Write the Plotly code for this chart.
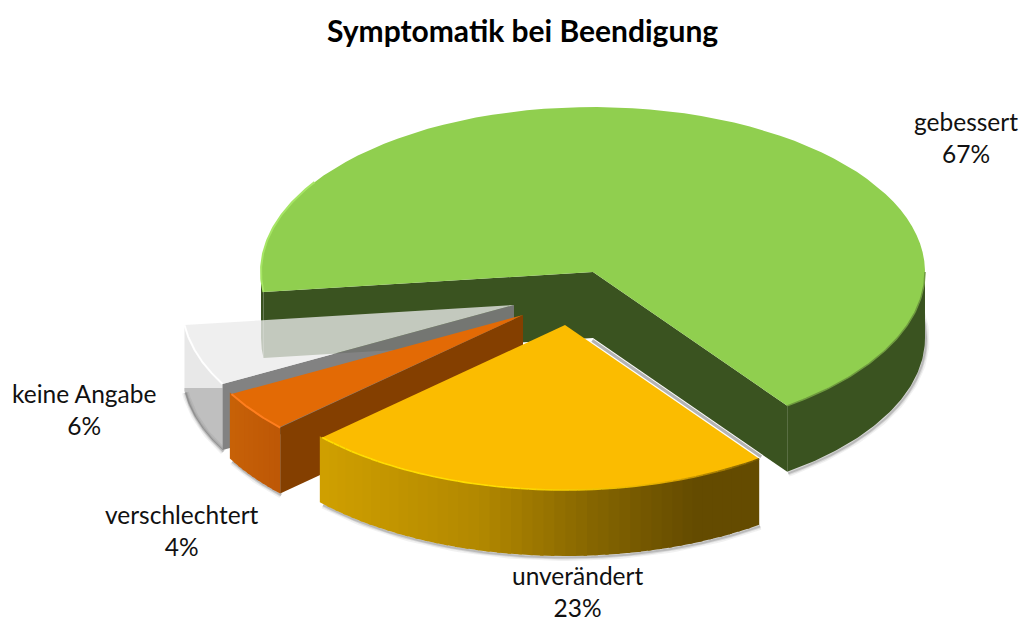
import numpy as np
import plotly.graph_objects as go

# ---- data ----
TITLE = "Symptomatik bei Beendigung"
categories = ["gebessert", "unverändert", "verschlechtert", "keine Angabe"]
values = [67, 23, 4, 6]

# ---- projection of the tilted pie (page pixels) ----
START_DEG = 263.0
RX, RY, DEPTH = 332, 165, 66
apex = {"gebessert": (593, 272), "unverändert": (565, 325),
        "verschlechtert": (523, 315), "keine Angabe": (514, 305)}
label_pos = {"gebessert": (966, 137.5), "unverändert": (577, 591.5),
             "verschlechtert": (182, 530.5), "keine Angabe": (84, 409.5)}

total = sum(values)
spans = {}
a0 = START_DEG
for c, v in zip(categories, values):
    a1 = a0 + v / total * 360
    spans[c] = (a0, a1)
    a0 = a1


def rim(c, a, b, n=80):
    t = np.radians(np.linspace(a, b, n))
    ax, ay = apex[c]
    return ax + RX * np.sin(t), ay - RY * np.cos(t)


fig = go.Figure()


def poly(x, y, fill):
    fig.add_trace(go.Scatter(x=list(x), y=list(y), mode="lines", fill="toself",
                             fillcolor=fill, line=dict(width=0), hoverinfo="skip",
                             showlegend=False))


def line(x, y, color, width):
    fig.add_trace(go.Scatter(x=list(x), y=list(y), mode="lines",
                             line=dict(color=color, width=width), hoverinfo="skip",
                             showlegend=False))


def top(c, fill):
    x, y = rim(c, *spans[c])
    ax, ay = apex[c]
    poly([ax, *x, ax], [ay, *y, ay], fill)


def wall(c, deg, fill):
    x, y = rim(c, deg, deg, 1)
    ax, ay = apex[c]
    poly([ax, x[0], x[0], ax, ax], [ay, y[0], y[0] + DEPTH, ay + DEPTH, ay], fill)


def side(c, a, b, fill):
    x, y = rim(c, a, b)
    poly([*x, *x[::-1], x[0]], [*y, *(y[::-1] + DEPTH), y[0]], fill)


def side_grad(c, a, b, color_at, n=44):
    edges = np.linspace(a, b, n + 1)
    for e0, e1 in zip(edges[:-1], edges[1:]):
        x, y = rim(c, e0, e1 + 0.6, 4)
        poly([*x, *x[::-1], x[0]], [*y, *(y[::-1] + DEPTH), y[0]], color_at(x.mean()))


def mix(stops, x):
    xs = [s[0] for s in stops]
    rgb = [np.interp(x, xs, [s[1][i] for s in stops]) for i in range(3)]
    return "rgb(%d,%d,%d)" % tuple(rgb)


def bottom_shadow(c, a, b):
    x, y = rim(c, a, b)
    for w, al in ((7, 0.07), (4, 0.12), (2, 0.2)):
        line(x + 1, y + DEPTH + 1.5, f"rgba(60,60,60,{al})", w)


# ---- gebessert ----
c = "gebessert"
a, b = spans[c]
bottom_shadow(c, 440, b)
GREEN_DARK = "#3A5320"
side(c, 450, b, GREEN_DARK)
side(c, a, 270, GREEN_DARK)
wall(c, a, GREEN_DARK)
wall(c, b, GREEN_DARK)
top(c, "#90CF4F")
rx, ry = rim(c, a, a + 40)
line(rx, ry, "#A6E565", 2)
rx, ry = rim(c, 450, b)
line(rx, ry, "#6E9A3E", 1.5)

# ---- keine Angabe (translucent) ----
c = "keine Angabe"
a, b = spans[c]
x, y = rim(c, a, b)
poly([*x, *x[::-1], x[0]], [*y, *(y[::-1] + DEPTH), y[0]], "#E8E8E8")
poly([*x, *x[::-1], x[0]],
     [*np.maximum(y, 388), *np.maximum(y[::-1] + DEPTH, 388), max(y[0], 388)], "#BFBFBF")
bottom_shadow(c, a, b)
wall(c, a, "rgba(120,120,120,0.93)")
top(c, "rgba(234,234,234,0.78)")
line(x, y, "rgba(255,255,255,0.95)", 2)

# ---- verschlechtert ----
c = "verschlechtert"
a, b = spans[c]
bottom_shadow(c, a, b)
side_grad(c, a, b, lambda v: mix([(228, (200, 98, 8)), (279, (190, 88, 6))], v), 10)
wall(c, a, "#843F00")
top(c, "#E36A05")
rx, ry = rim(c, a, b)
line(rx, ry, "#FF7E1E", 2)

# ---- unverändert ----
c = "unverändert"
a, b = spans[c]
bottom_shadow(c, a, b)
ax, ay = apex[c]
ex, ey = rim(c, a, a, 1)
f = np.array([0.13, 1.0])
line(ax + (ex[0] - ax) * f + 2, ay + (ey[0] - ay) * f - 2, "#B4B4B4", 3)
side_grad(c, a, b, lambda v: mix([(320, (208, 160, 0)), (480, (178, 136, 0)),
                                  (590, (134, 102, 0)), (695, (100, 75, 0))], v))
top(c, "#FBBC00")
rx, ry = rim(c, a, b, 60)
for i in range(59):
    k = i / 58
    col = mix([(0, (120, 90, 0)), (0.22, (230, 175, 0)), (0.55, (255, 222, 0)), (1, (255, 222, 0))], k)
    line(rx[i:i + 2], ry[i:i + 2], col, 1.6)

# ---- text ----
for cat, val in zip(categories, values):
    lx, ly = label_pos[cat]
    fig.add_annotation(x=lx, y=ly, text=f"{cat}<br>{val}%", showarrow=False,
                       font=dict(family="Lato", size=24.5, color="#111111"),
                       xanchor="center", yanchor="middle", align="center")
fig.add_annotation(x=522, y=30, text=f"<b>{TITLE}</b>", showarrow=False,
                   font=dict(family="Lato", size=30, color="#000000"),
                   xanchor="center", yanchor="middle")

fig.update_layout(width=1020, height=619, autosize=False,
                  margin=dict(l=0, r=0, t=0, b=0),
                  paper_bgcolor="white", plot_bgcolor="white", showlegend=False,
                  xaxis=dict(range=[0, 1020], visible=False, fixedrange=True),
                  yaxis=dict(range=[619, 0], visible=False, fixedrange=True))
fig.write_html("out.html", config={"displayModeBar": False},
               post_script="document.body.style.margin='0';document.documentElement.style.overflow='hidden';")
